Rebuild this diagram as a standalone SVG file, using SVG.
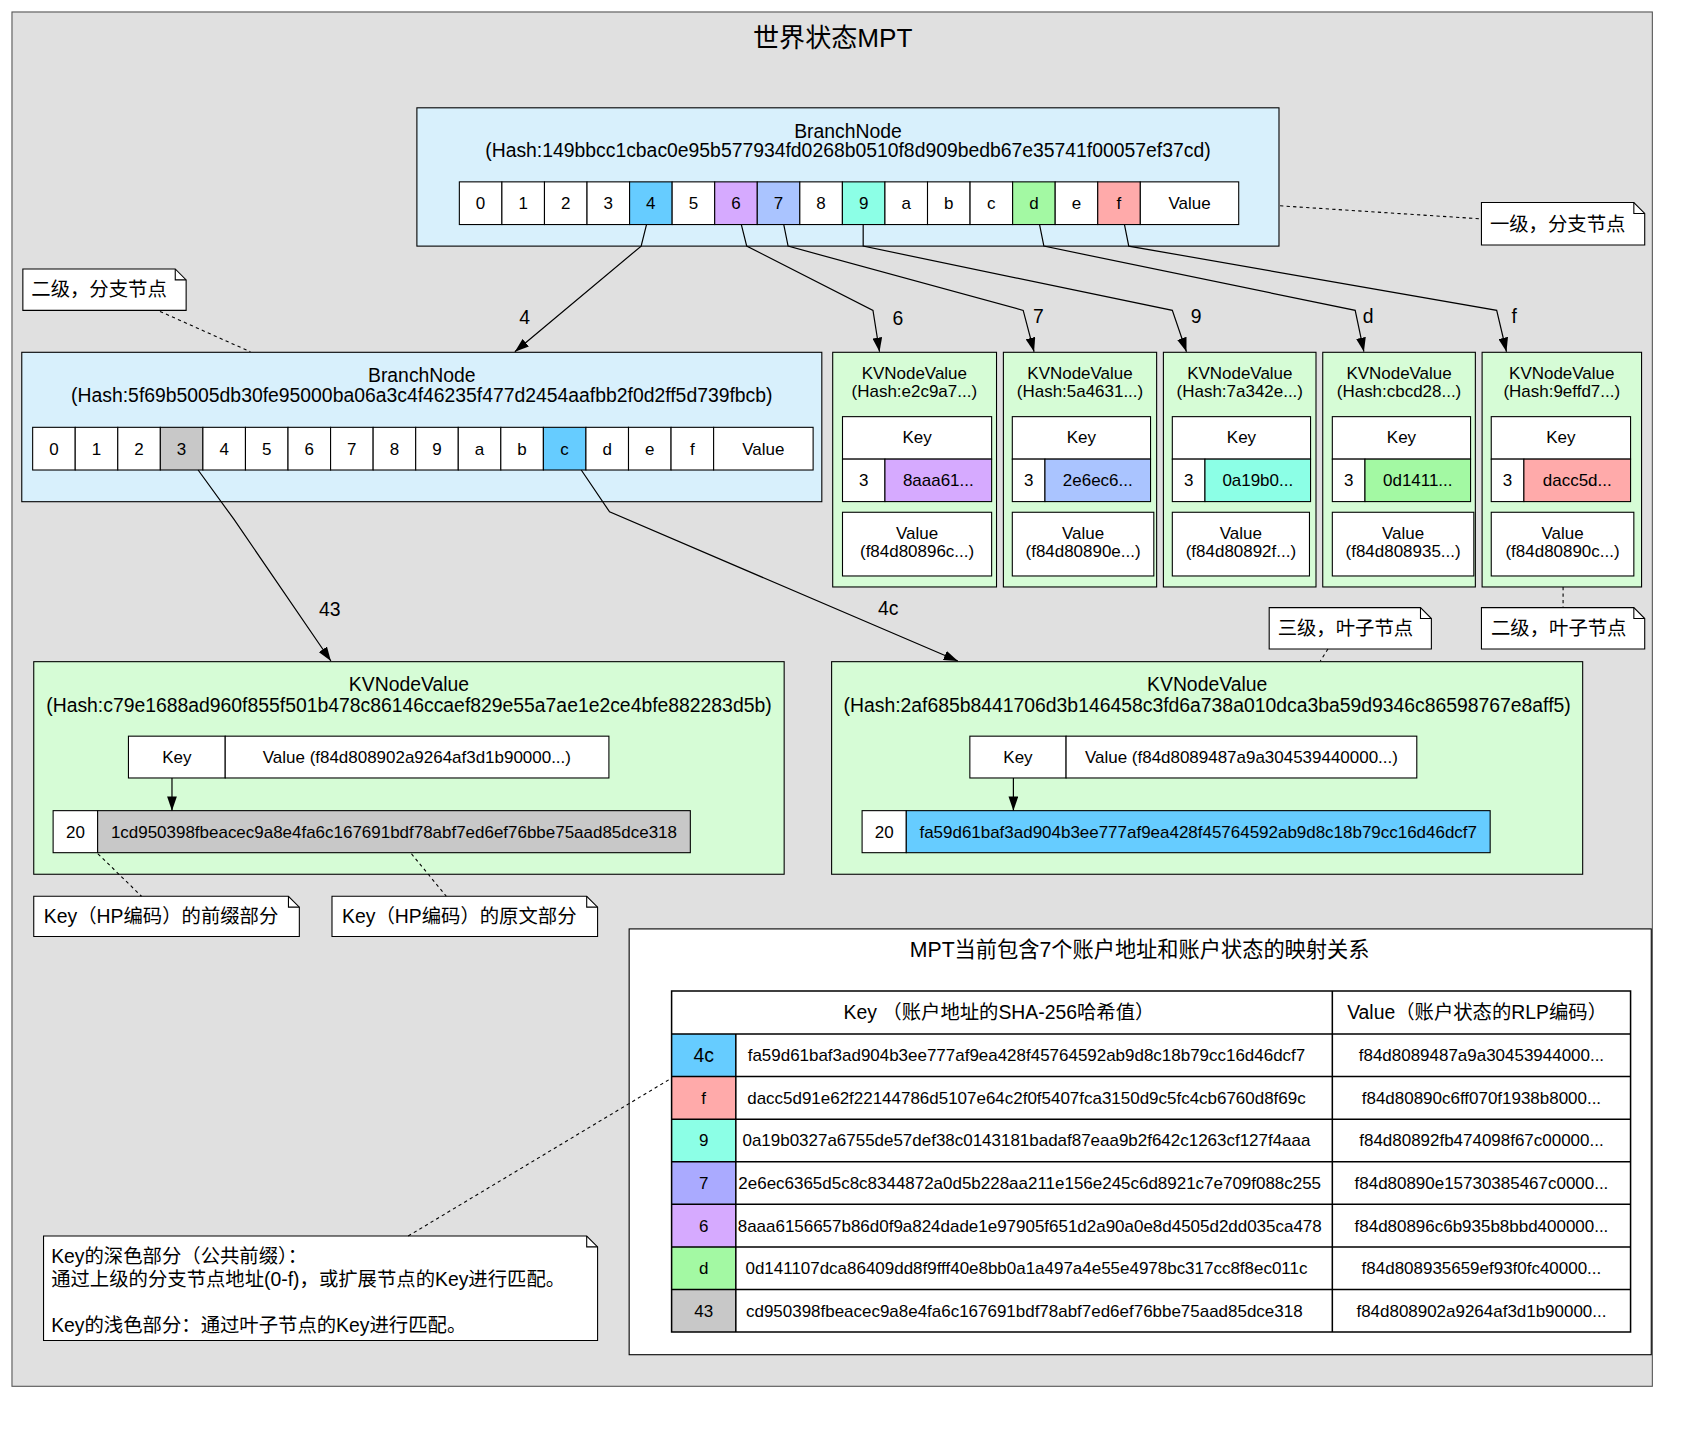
<svg xmlns="http://www.w3.org/2000/svg" width="1706" height="1440" viewBox="0 0 1706 1440">
<defs>
<style>
text{font-family:"Liberation Sans","Noto Sans CJK SC",sans-serif;fill:#000;text-anchor:middle}
.lg{font-size:17.8px}
.sm{font-size:15.6px}
.ttl{font-size:24px}
.st{font-size:19.5px}
.lft{text-anchor:start}
.c{fill:#fff;stroke:#000;stroke-width:1}
.br{fill:#d8f0fc;stroke:#000;stroke-width:1}
.kv{fill:#d6fcd6;stroke:#000;stroke-width:1}
.note{fill:#fff;stroke:#000;stroke-width:1}
.fold{fill:none;stroke:#000;stroke-width:1}
.k4{fill:#66ccff}
.k6{fill:#d6aaff}
.k7{fill:#aac4ff}
.k7t{fill:#aaaaff}
.k9{fill:#8cffe6}
.kd{fill:#a3f9a3}
.kf{fill:#ffaaaa}
.kg{fill:#c8c8c8}
.e{fill:none;stroke:#000;stroke-width:1.1;marker-end:url(#ah)}
.d{fill:none;stroke:#000;stroke-width:1;stroke-dasharray:3,3}
.tl{stroke:#000;stroke-width:1.4;fill:none}
</style>
<marker id="ah" viewBox="0 0 13 9" refX="13" refY="4.5" markerWidth="13" markerHeight="9" markerUnits="userSpaceOnUse" orient="auto"><path d="M0,0L13,4.5L0,9z" fill="#000"/></marker>
</defs>
<rect width="1706" height="1440" fill="#fff"/>
<g transform="scale(1.0885,1.089)">
<g id="cluster_world">
<rect x="11" y="11" width="1507" height="1262" fill="#e0e0e0" stroke="#555" stroke-width="1"/>
<text class="ttl" x="765" y="43">世界状态MPT</text>
</g>

<g id="branch_root">
<rect class="br" x="383" y="99" width="792" height="127"/>
<text class="lg" x="779" y="126.5">BranchNode</text>
<text class="lg" x="779" y="144.5">(Hash:149bbcc1cbac0e95b577934fd0268b0510f8d909bedb67e35741f00057ef37cd)</text>
<rect class="c" x="422" y="167" width="39.1" height="39.2"/>
<rect class="c" x="461.1" y="167" width="39.1" height="39.2"/>
<rect class="c" x="500.2" y="167" width="39.1" height="39.2"/>
<rect class="c" x="539.3" y="167" width="39.1" height="39.2"/>
<rect class="c k4" x="578.4" y="167" width="39.1" height="39.2"/>
<rect class="c" x="617.5" y="167" width="39.1" height="39.2"/>
<rect class="c k6" x="656.6" y="167" width="39.1" height="39.2"/>
<rect class="c k7" x="695.7" y="167" width="39.1" height="39.2"/>
<rect class="c" x="734.8" y="167" width="39.1" height="39.2"/>
<rect class="c k9" x="773.9" y="167" width="39.1" height="39.2"/>
<rect class="c" x="813" y="167" width="39.1" height="39.2"/>
<rect class="c" x="852.1" y="167" width="39.1" height="39.2"/>
<rect class="c" x="891.2" y="167" width="39.1" height="39.2"/>
<rect class="c kd" x="930.3" y="167" width="39.1" height="39.2"/>
<rect class="c" x="969.4" y="167" width="39.1" height="39.2"/>
<rect class="c kf" x="1008.5" y="167" width="39.1" height="39.2"/>
<rect class="c" x="1047.6" y="167" width="90.4" height="39.2"/>
<text class="sm" x="441.5" y="192">0</text>
<text class="sm" x="480.6" y="192">1</text>
<text class="sm" x="519.7" y="192">2</text>
<text class="sm" x="558.8" y="192">3</text>
<text class="sm" x="597.9" y="192">4</text>
<text class="sm" x="637" y="192">5</text>
<text class="sm" x="676.1" y="192">6</text>
<text class="sm" x="715.2" y="192">7</text>
<text class="sm" x="754.3" y="192">8</text>
<text class="sm" x="793.4" y="192">9</text>
<text class="sm" x="832.5" y="192">a</text>
<text class="sm" x="871.6" y="192">b</text>
<text class="sm" x="910.7" y="192">c</text>
<text class="sm" x="949.8" y="192">d</text>
<text class="sm" x="988.9" y="192">e</text>
<text class="sm" x="1028" y="192">f</text>
<text class="sm" x="1092.8" y="192">Value</text>
</g>

<g id="branch_4">
<rect class="br" x="20" y="323.5" width="735" height="137.2"/>
<text class="lg" x="387.5" y="351">BranchNode</text>
<text class="lg" x="387.5" y="369.2">(Hash:5f69b5005db30fe95000ba06a3c4f46235f477d2454aafbb2f0d2ff5d739fbcb)</text>
<rect class="c" x="30" y="392.4" width="39.1" height="39.2"/>
<rect class="c" x="69.1" y="392.4" width="39.1" height="39.2"/>
<rect class="c" x="108.2" y="392.4" width="39.1" height="39.2"/>
<rect class="c kg" x="147.3" y="392.4" width="39.1" height="39.2"/>
<rect class="c" x="186.4" y="392.4" width="39.1" height="39.2"/>
<rect class="c" x="225.5" y="392.4" width="39.1" height="39.2"/>
<rect class="c" x="264.6" y="392.4" width="39.1" height="39.2"/>
<rect class="c" x="303.7" y="392.4" width="39.1" height="39.2"/>
<rect class="c" x="342.8" y="392.4" width="39.1" height="39.2"/>
<rect class="c" x="381.9" y="392.4" width="39.1" height="39.2"/>
<rect class="c" x="421" y="392.4" width="39.1" height="39.2"/>
<rect class="c" x="460.1" y="392.4" width="39.1" height="39.2"/>
<rect class="c k4" x="499.2" y="392.4" width="39.1" height="39.2"/>
<rect class="c" x="538.3" y="392.4" width="39.1" height="39.2"/>
<rect class="c" x="577.4" y="392.4" width="39.1" height="39.2"/>
<rect class="c" x="616.5" y="392.4" width="39.1" height="39.2"/>
<rect class="c" x="655.6" y="392.4" width="91.4" height="39.2"/>
<text class="sm" x="49.5" y="417.5">0</text>
<text class="sm" x="88.6" y="417.5">1</text>
<text class="sm" x="127.7" y="417.5">2</text>
<text class="sm" x="166.8" y="417.5">3</text>
<text class="sm" x="205.9" y="417.5">4</text>
<text class="sm" x="245" y="417.5">5</text>
<text class="sm" x="284.1" y="417.5">6</text>
<text class="sm" x="323.2" y="417.5">7</text>
<text class="sm" x="362.3" y="417.5">8</text>
<text class="sm" x="401.4" y="417.5">9</text>
<text class="sm" x="440.5" y="417.5">a</text>
<text class="sm" x="479.6" y="417.5">b</text>
<text class="sm" x="518.7" y="417.5">c</text>
<text class="sm" x="557.8" y="417.5">d</text>
<text class="sm" x="596.9" y="417.5">e</text>
<text class="sm" x="636" y="417.5">f</text>
<text class="sm" x="701.3" y="417.5">Value</text>
</g>

<g id="leaf_6">
<rect class="kv" x="765" y="323.5" width="150.5" height="215.5"/>
<text class="sm" x="840" y="348.3">KVNodeValue</text>
<text class="sm" x="840" y="364.3">(Hash:e2c9a7...)</text>
<rect class="c" x="774" y="382.6" width="137" height="39"/>
<text class="sm" x="842.5" y="407.1">Key</text>
<rect class="c" x="774" y="421.6" width="39" height="39"/>
<rect class="c k6" x="813" y="421.6" width="98" height="39"/>
<text class="sm" x="793.5" y="446.5">3</text>
<text class="sm" x="862" y="446.5">8aaa61...</text>
<rect class="c" x="774" y="470.4" width="137" height="58.5"/>
<text class="sm" x="842.5" y="495.2">Value</text>
<text class="sm" x="842.5" y="511.2">(f84d80896c...)</text>
</g>

<g id="leaf_7">
<rect class="kv" x="921.8" y="323.5" width="140.8" height="215.5"/>
<text class="sm" x="992.2" y="348.3">KVNodeValue</text>
<text class="sm" x="992.2" y="364.3">(Hash:5a4631...)</text>
<rect class="c" x="930" y="382.6" width="127" height="39"/>
<text class="sm" x="993.5" y="407.1">Key</text>
<rect class="c" x="930" y="421.6" width="30" height="39"/>
<rect class="c k7" x="960" y="421.6" width="97" height="39"/>
<text class="sm" x="945" y="446.5">3</text>
<text class="sm" x="1008.5" y="446.5">2e6ec6...</text>
<rect class="c" x="930" y="470.4" width="130" height="58.5"/>
<text class="sm" x="995" y="495.2">Value</text>
<text class="sm" x="995" y="511.2">(f84d80890e...)</text>
</g>

<g id="leaf_9">
<rect class="kv" x="1068.8" y="323.5" width="140.2" height="215.5"/>
<text class="sm" x="1139" y="348.3">KVNodeValue</text>
<text class="sm" x="1139" y="364.3">(Hash:7a342e...)</text>
<rect class="c" x="1077" y="382.6" width="127" height="39"/>
<text class="sm" x="1140.5" y="407.1">Key</text>
<rect class="c" x="1077" y="421.6" width="30" height="39"/>
<rect class="c k9" x="1107" y="421.6" width="97" height="39"/>
<text class="sm" x="1092" y="446.5">3</text>
<text class="sm" x="1155.5" y="446.5">0a19b0...</text>
<rect class="c" x="1077" y="470.4" width="126" height="58.5"/>
<text class="sm" x="1140" y="495.2">Value</text>
<text class="sm" x="1140" y="511.2">(f84d80892f...)</text>
</g>

<g id="leaf_d">
<rect class="kv" x="1215.2" y="323.5" width="140.2" height="215.5"/>
<text class="sm" x="1285.3" y="348.3">KVNodeValue</text>
<text class="sm" x="1285.3" y="364.3">(Hash:cbcd28...)</text>
<rect class="c" x="1224" y="382.6" width="127" height="39"/>
<text class="sm" x="1287.5" y="407.1">Key</text>
<rect class="c" x="1224" y="421.6" width="30" height="39"/>
<rect class="c kd" x="1254" y="421.6" width="97" height="39"/>
<text class="sm" x="1239" y="446.5">3</text>
<text class="sm" x="1302.5" y="446.5">0d1411...</text>
<rect class="c" x="1224" y="470.4" width="130" height="58.5"/>
<text class="sm" x="1289" y="495.2">Value</text>
<text class="sm" x="1289" y="511.2">(f84d808935...)</text>
</g>

<g id="leaf_f">
<rect class="kv" x="1361.6" y="323.5" width="146.5" height="215.5"/>
<text class="sm" x="1434.8" y="348.3">KVNodeValue</text>
<text class="sm" x="1434.8" y="364.3">(Hash:9effd7...)</text>
<rect class="c" x="1370" y="382.6" width="128" height="39"/>
<text class="sm" x="1434" y="407.1">Key</text>
<rect class="c" x="1370" y="421.6" width="30" height="39"/>
<rect class="c kf" x="1400" y="421.6" width="98" height="39"/>
<text class="sm" x="1385" y="446.5">3</text>
<text class="sm" x="1449" y="446.5">dacc5d...</text>
<rect class="c" x="1370" y="470.4" width="131" height="58.5"/>
<text class="sm" x="1435.5" y="495.2">Value</text>
<text class="sm" x="1435.5" y="511.2">(f84d80890c...)</text>
</g>

<g id="leaf_43">
<rect class="kv" x="31" y="607.6" width="689.4" height="195.2"/>
<text class="lg" x="375.7" y="634.6">KVNodeValue</text>
<text class="lg" x="375.7" y="653.6">(Hash:c79e1688ad960f855f501b478c86146ccaef829e55a7ae1e2ce4bfe882283d5b)</text>
<rect class="c" x="118" y="676" width="88.9" height="38.4"/>
<rect class="c" x="206.9" y="676" width="352.5" height="38.4"/>
<text class="sm" x="162.5" y="700.3">Key</text>
<text class="sm" x="383" y="700.3">Value (f84d808902a9264af3d1b90000...)</text>
<rect class="c" x="48.8" y="744.4" width="40.9" height="38.6"/>
<rect class="c kg" x="89.7" y="744.4" width="544.5" height="38.6"/>
<text class="sm" x="69.3" y="769.2">20</text>
<text class="sm" x="361.9" y="769.2">1cd950398fbeacec9a8e4fa6c167691bdf78abf7ed6ef76bbe75aad85dce318</text>
<path class="e" d="M158,714.4L158,744.4"/>
</g>

<g id="leaf_4c">
<rect class="kv" x="764" y="607.6" width="690" height="195.2"/>
<text class="lg" x="1109" y="634.6">KVNodeValue</text>
<text class="lg" x="1109" y="653.6">(Hash:2af685b8441706d3b146458c3fd6a738a010dca3ba59d9346c86598767e8aff5)</text>
<rect class="c" x="891" y="676" width="88.4" height="38.4"/>
<rect class="c" x="979.4" y="676" width="322.2" height="38.4"/>
<text class="sm" x="935.2" y="700.3">Key</text>
<text class="sm" x="1140.5" y="700.3">Value (f84d8089487a9a304539440000...)</text>
<rect class="c" x="792" y="744.4" width="40.6" height="38.6"/>
<rect class="c k4" x="832.6" y="744.4" width="536.4" height="38.6"/>
<text class="sm" x="812.3" y="769.2">20</text>
<text class="sm" x="1100.8" y="769.2">fa59d61baf3ad904b3ee777af9ea428f45764592ab9d8c18b79cc16d46dcf7</text>
<path class="e" d="M931,714.4L931,744.4"/>
</g>

<g id="notes">
<g id="note1">
<path class="note" d="M1361,186H1501L1511,196V225H1361Z"/><path class="fold" d="M1501,186V196H1511"/>
<text class="lg" x="1431" y="211.7">一级，分支节点</text>
</g>
<g id="note2">
<path class="note" d="M21,247H161L171,257V285H21Z"/><path class="fold" d="M161,247V257H171"/>
<text class="lg" x="91" y="272.2">二级，分支节点</text>
</g>
<g id="note3">
<path class="note" d="M1166,558H1305L1315,568V596H1166Z"/><path class="fold" d="M1305,558V568H1315"/>
<text class="lg" x="1236" y="583.2">三级，叶子节点</text>
</g>
<g id="note4">
<path class="note" d="M1361,558H1501L1511,568V596H1361Z"/><path class="fold" d="M1501,558V568H1511"/>
<text class="lg" x="1432" y="583.2">二级，叶子节点</text>
</g>
<g id="note5">
<path class="note" d="M31,823H265L275,833V860H31Z"/><path class="fold" d="M265,823V833H275"/>
<text class="lg" x="148" y="847.7">Key（HP编码）的前缀部分</text>
</g>
<g id="note6">
<path class="note" d="M305,823H539L549,833V860H305Z"/><path class="fold" d="M539,823V833H549"/>
<text class="lg" x="422" y="847.7">Key（HP编码）的原文部分</text>
</g>
<g id="note7">
<path class="note" d="M40,1135H539L549,1145V1231H40Z"/><path class="fold" d="M539,1135V1145H549"/>
<text class="lg lft" x="47" y="1160.2">Key的深色部分（公共前缀）：</text>
<text class="lg lft" x="47" y="1181">通过上级的分支节点地址(0-f)，或扩展节点的Key进行匹配。</text>
<text class="lg lft" x="47" y="1223">Key的浅色部分：通过叶子节点的Key进行匹配。</text>
</g>
</g>

<g id="cluster_table">
<rect x="578" y="853" width="939" height="391" fill="#fff" stroke="#000" stroke-width="1"/>
<text class="st" x="1047" y="879.2">MPT当前包含7个账户地址和账户状态的映射关系</text>
<rect class="k4" x="617" y="949.5" width="59" height="39.1"/>
<rect class="kf" x="617" y="988.6" width="59" height="39.1"/>
<rect class="k9" x="617" y="1027.7" width="59" height="39.1"/>
<rect class="k7t" x="617" y="1066.8" width="59" height="39.1"/>
<rect class="k6" x="617" y="1105.9" width="59" height="39.1"/>
<rect class="kd" x="617" y="1145" width="59" height="39.1"/>
<rect class="kg" x="617" y="1184.1" width="59" height="39.1"/>
<path class="tl" d="M617,910H1498V1223.2H617Z M617,949.5H1498 M617,988.6H1498 M617,1027.7H1498 M617,1066.8H1498 M617,1105.9H1498 M617,1145H1498 M617,1184.1H1498 M676,949.5V1223.2 M1224,910V1223.2"/>
<text class="lg lft" x="775" y="936">Key （账户地址的SHA-256哈希值）</text>
<text class="lg" x="1357" y="936">Value（账户状态的RLP编码）</text>
<text class="lg" x="646.5" y="975.3">4c</text>
<text class="sm" x="646.5" y="1013.7">f</text>
<text class="sm" x="646.5" y="1052.8">9</text>
<text class="sm" x="646.5" y="1091.9">7</text>
<text class="sm" x="646.5" y="1131">6</text>
<text class="sm" x="646.5" y="1170.1">d</text>
<text class="sm" x="646.5" y="1209.2">43</text>
<text class="sm" x="943" y="974.6">fa59d61baf3ad904b3ee777af9ea428f45764592ab9d8c18b79cc16d46dcf7</text>
<text class="sm" x="943" y="1013.7">dacc5d91e62f22144786d5107e64c2f0f5407fca3150d9c5fc4cb6760d8f69c</text>
<text class="sm" x="943" y="1052.8">0a19b0327a6755de57def38c0143181badaf87eaa9b2f642c1263cf127f4aaa</text>
<text class="sm" x="946" y="1091.9">2e6ec6365d5c8c8344872a0d5b228aa211e156e245c6d8921c7e709f088c255</text>
<text class="sm" x="946" y="1131">8aaa6156657b86d0f9a824dade1e97905f651d2a90a0e8d4505d2dd035ca478</text>
<text class="sm" x="943" y="1170.1">0d141107dca86409dd8f9fff40e8bb0a1a497a4e55e4978bc317cc8f8ec011c</text>
<text class="sm" x="941" y="1209.2">cd950398fbeacec9a8e4fa6c167691bdf78abf7ed6ef76bbe75aad85dce318</text>
<text class="sm" x="1361" y="974.6">f84d8089487a9a30453944000...</text>
<text class="sm" x="1361" y="1013.7">f84d80890c6ff070f1938b8000...</text>
<text class="sm" x="1361" y="1052.8">f84d80892fb474098f67c00000...</text>
<text class="sm" x="1361" y="1091.9">f84d80890e15730385467c0000...</text>
<text class="sm" x="1361" y="1131">f84d80896c6b935b8bbd400000...</text>
<text class="sm" x="1361" y="1170.1">f84d808935659ef93f0fc40000...</text>
<text class="sm" x="1361" y="1209.2">f84d808902a9264af3d1b90000...</text>
</g>

<g id="connectors">
<path class="e" d="M594,206L589,226L473,323"/>
<path class="e" d="M681,206L686,226L802,285L808,323"/>
<path class="e" d="M720,206L724,226L940,285L950,323"/>
<path class="e" d="M793,206L793,226L1077,285L1090,323"/>
<path class="e" d="M955,206L959,226L1245,285L1253,323"/>
<path class="e" d="M1033,206L1037,226L1375,285L1384,323"/>
<path class="e" d="M182,431.6L215,477L304,607"/>
<path class="e" d="M534,431.6L560,470L880,607"/>
<text class="lg" x="482" y="297.2">4</text>
<text class="lg" x="825" y="298">6</text>
<text class="lg" x="954" y="297">7</text>
<text class="lg" x="1099" y="297">9</text>
<text class="lg" x="1257" y="297">d</text>
<text class="lg" x="1391" y="297">f</text>
<text class="lg" x="303" y="566">43</text>
<text class="lg" x="816" y="565">4c</text>
<path class="d" d="M1176,189L1361,201"/>
<path class="d" d="M147,286L230,323"/>
<path class="d" d="M1436,539L1436,558"/>
<path class="d" d="M1220,596L1213,607"/>
<path class="d" d="M90,784L130,823"/>
<path class="d" d="M378,784L410,823"/>
<path class="d" d="M375,1135L617,990"/>
</g>
</g>
</svg>
